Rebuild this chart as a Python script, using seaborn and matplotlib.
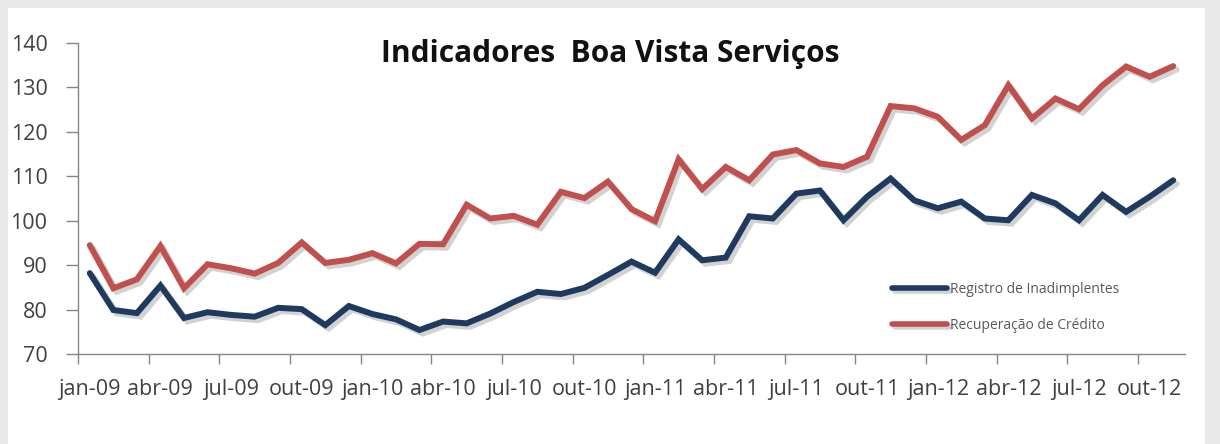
import numpy as np
import pandas as pd
import matplotlib
matplotlib.use("Agg")
import matplotlib.pyplot as plt
import matplotlib.patheffects as pe
from matplotlib.patches import Rectangle
import seaborn as sns

months = ["jan", "fev", "mar", "abr", "mai", "jun", "jul", "ago", "set", "out", "nov", "dez"]
periods = [f"{m}-{y:02d}" for y in range(9, 13) for m in months][:47]

registro = [88.2, 79.9, 79.2, 85.4, 78.1, 79.4, 78.8, 78.4, 80.4, 80.1, 76.5, 80.8,
            79.0, 77.8, 75.4, 77.3, 76.9, 79.1, 81.7, 84.0, 83.5, 84.9, 87.8, 90.8,
            88.3, 95.8, 91.1, 91.7, 101.0, 100.5, 106.1, 106.8, 100.1, 105.4, 109.5, 104.6,
            102.8, 104.3, 100.5, 100.1, 105.8, 103.9, 100.1, 105.8, 102.0, 105.4, 109.1]
recuperacao = [94.5, 84.8, 86.8, 94.3, 84.8, 90.2, 89.3, 88.1, 90.5, 95.1, 90.5, 91.2,
               92.7, 90.4, 94.8, 94.7, 103.6, 100.5, 101.1, 99.1, 106.5, 105.1, 108.8, 102.6,
               99.9, 113.8, 107.1, 112.1, 109.1, 114.9, 115.9, 112.9, 112.1, 114.4, 125.8, 125.3,
               123.4, 118.2, 121.5, 130.5, 123.0, 127.5, 125.1, 130.5, 134.7, 132.4, 134.8]
series_names = ["Registro de Inadimplentes", "Recuperação de Crédito"]
tick_labels = periods[::3]
title = "Indicadores  Boa Vista Serviços"

df = pd.DataFrame({
    "idx": list(range(len(periods))) * 2,
    "valor": registro + recuperacao,
    "serie": [series_names[0]] * len(periods) + [series_names[1]] * len(periods),
})

sns.set_theme(style="white")
plt.rcParams["font.family"] = ["Open Sans", "DejaVu Sans"]

fig = plt.figure(figsize=(12.2, 4.44), dpi=100)
fig.patch.set_facecolor("#e9e9e9")
bg = Rectangle((8 / 1220, 0), (1205 - 8) / 1220, (444 - 8) / 444,
               transform=fig.transFigure, facecolor="white", edgecolor="none", zorder=-10)
fig.add_artist(bg)

ax = fig.add_axes([78 / 1220, 90 / 444, (1185 - 78) / 1220, (354 - 43) / 444])
ax.set_facecolor("none")
ax.set_zorder(5)

palette = {series_names[0]: "#1f3a5f", series_names[1]: "#c0504d"}
sns.lineplot(data=df, x="idx", y="valor", hue="serie", palette=palette,
             hue_order=series_names, linewidth=4.3, ax=ax, legend=True)
for line in ax.get_lines():
    line.set_solid_joinstyle("miter")
    line.set_path_effects([pe.SimpleLineShadow(offset=(2.5, -2.5), shadow_color="#808080", alpha=0.35),
                           pe.Normal()])

ax.set_xlim(-0.5, len(periods) - 0.5)
ax.set_ylim(70, 140)
ax.set_yticks(range(70, 141, 10))
ax.set_xticks(range(0, len(periods), 3))
ax.set_xticklabels(tick_labels)
ax.set_xticks(np.arange(-0.5, len(periods), 3), minor=True)
ax.tick_params(axis="x", which="major", length=0, pad=18, labelsize=15.5, labelcolor="#404040")
ax.tick_params(axis="x", which="minor", length=7, width=1, color="#868686", direction="out", bottom=True)
ax.tick_params(axis="y", which="major", length=9, width=1, color="#868686", direction="out",
               left=True, pad=13, labelsize=15.5, labelcolor="#404040")
ax.set_xlabel("")
ax.set_ylabel("")
for s in ["top", "right"]:
    ax.spines[s].set_visible(False)
for s in ["left", "bottom"]:
    ax.spines[s].set_color("#868686")
    ax.spines[s].set_linewidth(1)

leg = ax.legend(loc="upper left", bbox_to_anchor=(0.735, 0.232), frameon=False,
                fontsize=10, handlelength=4.0, handletextpad=0.2, labelspacing=1.5,
                borderpad=0, borderaxespad=0)
for t in leg.get_texts():
    t.set_color("#595959")
for h in leg.legend_handles:
    h.set_linewidth(4)

fig.text(610 / 1220, 1 - 54 / 444, title, ha="center", va="center",
         fontsize=21.5, fontweight="bold", color="#111111")

fig.savefig("out.png", dpi=100, facecolor=fig.get_facecolor())
